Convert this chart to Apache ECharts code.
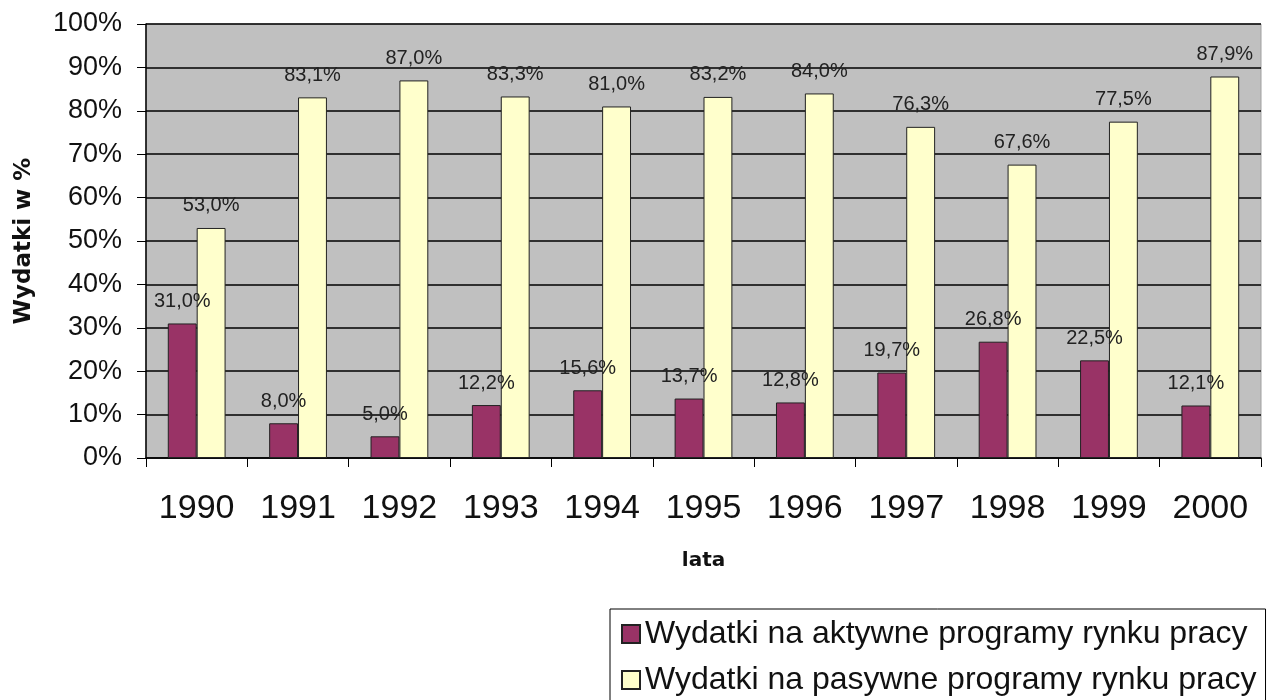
<!DOCTYPE html>
<html lang="pl">
<head>
    <meta charset="UTF-8">
    <title>Wydatki</title>
    <script src="https://cdn.jsdelivr.net/npm/echarts@6/dist/echarts.min.js"></script>
    <style>
        html, body { margin: 0; padding: 0; background: #fff; }
        #chart { width: 1282px; height: 700px; }
    </style>
</head>
<body>
    <div id="chart"></div>
    <script>
        const years = ['1990', '1991', '1992', '1993', '1994', '1995', '1996', '1997', '1998', '1999', '2000']
        const aktywne = [31.0, 8.0, 5.0, 12.2, 15.6, 13.7, 12.8, 19.7, 26.8, 22.5, 12.1]
        const pasywne = [53.0, 83.1, 87.0, 83.3, 81.0, 83.2, 84.0, 76.3, 67.6, 77.5, 87.9]
        const names = ['Wydatki na aktywne programy rynku pracy', 'Wydatki na pasywne programy rynku pracy']

        // etykieta z przecinkiem
        const fmt = p => p.value.toFixed(1).replace('.', ',') + '%'

        const label = {
            show: true,
            position: 'top',
            distance: 12,
            fontFamily: 'Arial, Liberation Sans',
            fontSize: 20,
            color: '#222',
            formatter: fmt
        }

        var myChart = echarts.init(document.getElementById('chart'))
        myChart.setOption({
            animation: false,
            textStyle: { fontFamily: 'Arial, Liberation Sans' },
            grid: {
                left: 146, right: 21, top: 24, bottom: 242,
                show: true,
                backgroundColor: '#c0c0c0',
                borderColor: '#a0a0a0',
                borderWidth: 1
            },
            legend: {
                orient: 'vertical',
                left: 610, top: 609,
                height: 120,
                icon: 'rect',
                itemWidth: 18, itemHeight: 18,
                itemGap: 12,
                padding: [8, 9, 8, 11],
                backgroundColor: '#fff',
                borderColor: '#000',
                borderWidth: 1,
                textStyle: { fontSize: 32, lineHeight: 34, color: '#111', fontFamily: 'Arial, Liberation Sans' },
                data: names
            },
            xAxis: {
                type: 'category',
                data: years,
                name: 'lata',
                nameLocation: 'middle',
                nameGap: 93,
                nameTextStyle: { fontSize: 20, fontWeight: 'bold', color: '#111', fontFamily: 'DejaVu Sans' },
                axisLine: { lineStyle: { color: '#000', width: 1.5 } },
                axisTick: { show: true, length: 9, lineStyle: { color: '#000' } },
                axisLabel: { fontSize: 34, color: '#111', margin: 34 },
                splitLine: { show: false }
            },
            yAxis: {
                type: 'value',
                min: 0, max: 100, interval: 10,
                name: 'Wydatki w %',
                nameLocation: 'middle',
                nameGap: 110,
                nameTextStyle: { fontSize: 23, fontWeight: 'bold', color: '#111', fontFamily: 'DejaVu Sans' },
                axisLine: { show: true, lineStyle: { color: '#000', width: 1.5 } },
                axisTick: { show: true, length: 9, lineStyle: { color: '#000' } },
                axisLabel: { fontSize: 27, color: '#111', margin: 24, formatter: '{value}%' },
                splitLine: { show: true, lineStyle: { color: '#000', width: 1.5 } }
            },
            series: [
                {
                    name: names[0],
                    type: 'bar',
                    data: aktywne,
                    barGap: '0%',
                    barCategoryGap: '43%',
                    itemStyle: { color: '#993366', borderColor: '#222', borderWidth: 1 },
                    label: label
                },
                {
                    name: names[1],
                    type: 'bar',
                    data: pasywne,
                    itemStyle: { color: '#ffffcc', borderColor: '#222', borderWidth: 1 },
                    label: label
                }
            ]
        })
    </script>
</body>
</html>
